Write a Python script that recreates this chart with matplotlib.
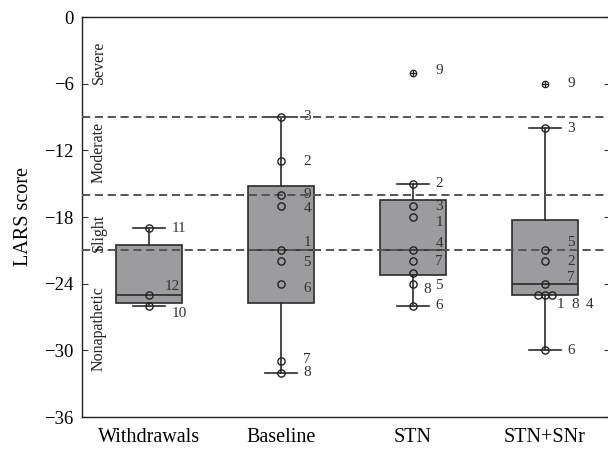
import numpy as np
import matplotlib.pyplot as plt
from matplotlib.transforms import blended_transform_factory

plt.rcParams['font.family'] = ['Liberation Serif', 'DejaVu Serif']

groups = ["Withdrawals", "Baseline", "STN", "STN+SNr"]

# patient numbers and LARS scores, one pair of lists per group
withdrawal_ids = [10, 11, 12]
withdrawal_scores = [-26, -19, -25]
baseline_ids = [1, 2, 3, 4, 5, 6, 7, 8, 9]
baseline_scores = [-21, -13, -9, -17, -22, -24, -31, -32, -16]
stn_ids = [1, 2, 3, 4, 5, 6, 7, 8, 9]
stn_scores = [-18, -15, -17, -21, -24, -26, -22, -23, -5]
snr_ids = [1, 2, 3, 4, 5, 6, 7, 8, 9]
snr_scores = [-25, -22, -10, -25, -21, -30, -24, -25, -6]

# apathy category cut-offs and names
cutoffs = [-9, -16, -21]
severity = ["Severe", "Moderate", "Slight", "Nonapathetic"]
severity_y = [-4.1, -12.2, -19.4, -28.0]
yticks = [0, -6, -12, -18, -24, -30, -36]

# where the patient numbers sit next to their points (dx, dy)
label_nudge = {
    (0, 12): (0.12, 0.7), (0, 10): (0.175, -0.7),
    (1, 4): (0.17, -0.25), (1, 1): (0.17, 0.7), (1, 5): (0.17, -0.1),
    (1, 6): (0.17, -0.45), (1, 7): (0.17, 0.15),
    (2, 3): (0.17, -0.1), (2, 1): (0.17, -0.5), (2, 4): (0.17, 0.6),
    (2, 5): (0.17, -0.2), (2, 8): (0.08, -1.5), (2, 9): (0.17, 0.15),
    (3, 5): (0.17, 0.7), (3, 7): (0.17, 0.55),
    (3, 1): (0.09, -0.85), (3, 8): (0.2, -0.85), (3, 4): (0.31, -0.85),
}
# side by side points with equal scores
point_shift = {(3, 1): -0.053, (3, 4): 0.053}


def box_stats(scores):
    s = np.array(scores, dtype=float)
    q1, med, q3 = np.percentile(s, [25, 50, 75], method="hazen")
    iqr = q3 - q1
    lo = s[s >= q1 - 1.5 * iqr].min()
    hi = s[s <= q3 + 1.5 * iqr].max()
    return {"med": med, "q1": q1, "q3": q3, "whislo": lo, "whishi": hi,
            "fliers": []}


def plot_chart():
    all_ids = [withdrawal_ids, baseline_ids, stn_ids, snr_ids]
    all_scores = [withdrawal_scores, baseline_scores, stn_scores, snr_scores]
    positions = np.arange(1, len(groups) + 1)

    fig = plt.figure(figsize=(6.08, 4.5), dpi=100)
    ax = fig.add_axes([82 / 608, 33 / 450, 528 / 608, 400 / 450])

    stats = [box_stats(s) for s in all_scores]
    ax.bxp(stats, positions=positions, widths=0.5, capwidths=0.24,
           showfliers=False, patch_artist=True,
           boxprops=dict(facecolor="#9c9c9f", edgecolor="#2b2b2b", linewidth=1.2),
           medianprops=dict(color="#2b2b2b", linewidth=1.2),
           whiskerprops=dict(color="#2b2b2b", linewidth=1.2),
           capprops=dict(color="#2b2b2b", linewidth=1.2),
           zorder=2)

    for c in cutoffs:
        ax.axhline(c, color="#555555", linewidth=1.4,
                   linestyle=(0, (4.2, 2.4)), zorder=3)

    for g, (ids, scores, st) in enumerate(zip(all_ids, all_scores, stats)):
        x0 = positions[g]
        for pid, val in zip(ids, scores):
            x = x0 + point_shift.get((g, pid), 0)
            if val > st["whishi"] or val < st["whislo"]:
                ax.plot(x, val, marker="o", ms=4.6, mfc="none", mec="#222222",
                        mew=0.9, zorder=4)
                ax.plot(x, val, marker="+", ms=4.6, mec="#222222", mew=0.9,
                        zorder=4)
            else:
                ax.plot(x, val, marker="o", ms=5.2, mfc="none", mec="#222222",
                        mew=1.0, zorder=4)
            dx, dy = label_nudge.get((g, pid), (0.17, 0))
            ax.text(x0 + dx, val + dy, str(pid), fontsize=11, color="#333333",
                    ha="left", va="center", zorder=5)

    trans = blended_transform_factory(ax.transAxes, ax.transData)
    for name, y in zip(severity, severity_y):
        ax.text(0.032, y, name, transform=trans, rotation=90, ha="center",
                va="center", fontsize=11.5, color="#222222")

    ax.set_xlim(0.492, 4.492)
    ax.set_ylim(-36, 0)
    ax.set_yticks(yticks)
    ax.set_xticks(positions, groups)
    ax.set_ylabel("LARS score", fontsize=14.5, labelpad=8)

    ax.spines["right"].set_visible(False)
    for side in ["left", "bottom", "top"]:
        ax.spines[side].set_linewidth(1.0)
        ax.spines[side].set_color("#222222")
    ax.tick_params(axis="y", direction="in", length=4, left=True, right=True,
                   labelsize=13.5, pad=6, color="#333333")
    ax.tick_params(axis="x", length=0, labelsize=14.5, pad=8)

    fig.savefig("out.png", dpi=100)


if __name__ == "__main__":
    plot_chart()
